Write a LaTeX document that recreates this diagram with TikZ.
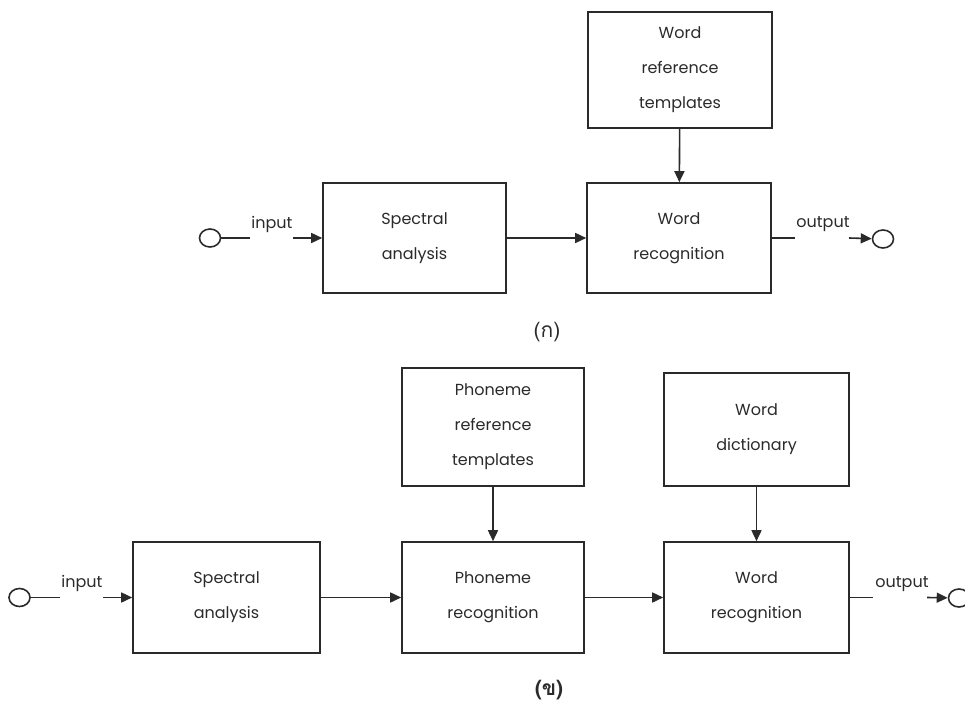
\documentclass[tikz,border=0pt]{standalone}
\usepackage{fontspec}
\setmainfont{Poppins}
\newfontfamily\thaifont[Script=Thai]{Loma}
\usetikzlibrary{arrows.meta,shapes.geometric}
\definecolor{ink}{HTML}{2A2A2A}
\begin{document}
\begin{tikzpicture}[x=1pt,y=-1pt,
  box/.style={draw=ink, text=ink, line width=1.6pt, inner sep=0pt, align=center,
              font=\fontsize{16}{35}\selectfont},
  port/.style={draw=ink, ellipse, line width=1.6pt, inner sep=0pt,
               minimum width=21pt, minimum height=18pt},
  lbl/.style={text=ink, font=\fontsize{16}{18}\selectfont, inner sep=0pt},
  capt/.style={text=ink, font=\thaifont\fontsize{21}{24}\selectfont, inner sep=0pt},
  wire/.style={draw=ink, line width=1.6pt},
  arr/.style={draw=ink, line width=1.6pt, -{Triangle[length=11pt,width=10pt]}},
]
\useasboundingbox (0,0) rectangle (965,703);

% ---------- (a) ----------
\node[box, minimum width=184pt, minimum height=116pt] (tpl1) at (680,70) {Word\\reference\\templates};
\node[box, minimum width=184pt, minimum height=110pt] (wr1) at (679,238) {Word\\recognition};
\node[box, minimum width=183pt, minimum height=110pt] (sa1) at (414.5,238) {Spectral\\analysis};
\node[port] (in1) at (210,238) {};
\node[port] (out1) at (883,239) {};
\coordinate (i1a) at (250,238);
\coordinate (i1b) at (293,238);
\coordinate (o1a) at (795,238);
\coordinate (o1b) at (849,238);
\node[lbl] (inl1) at (272,224) {input};
\node[lbl] (outl1) at (823,224) {output};
\draw[wire] (in1) -- (i1a);
\draw[arr] (i1b) -- (sa1);
\draw[arr] (sa1) -- (wr1);
\draw[arr] (tpl1) -- (wr1);
\draw[wire] (wr1.east) -- (o1a);
\draw[arr] (o1b) -- (out1);
\node[capt] (capa) at (547,332) {(ก)};

% ---------- (b) ----------
\node[box, minimum width=187pt, minimum height=111pt] (sa2) at (226.5,597.5) {Spectral\\analysis};
\node[box, minimum width=182pt, minimum height=118pt] (pt2) at (493,427) {Phoneme\\reference\\templates};
\node[box, minimum width=182pt, minimum height=111pt] (pr2) at (493,597.5) {Phoneme\\recognition};
\node[box, minimum width=185pt, minimum height=113pt] (wd2) at (756.5,429.5) {Word\\dictionary};
\node[box, minimum width=185pt, minimum height=111pt] (wr2) at (756.5,597.5) {Word\\recognition};
\node[port] (in2) at (19.5,597.5) {};
\node[port] (out2) at (959,598) {};
\coordinate (i2a) at (60,597.5);
\coordinate (i2b) at (103,597.5);
\coordinate (o2a) at (873,597.5);
\coordinate (o2b) at (927,597.5);
\node[lbl] (inl2) at (82,583) {input};
\node[lbl] (outl2) at (902,584) {output};
\draw[wire] (in2) -- (i2a);
\draw[arr] (i2b) -- (sa2);
\draw[arr] (sa2) -- (pr2);
\draw[arr] (pr2) -- (wr2);
\draw[arr] (pt2) -- (pr2);
\draw[arr] (wd2) -- (wr2);
\draw[wire] (wr2.east) -- (o2a);
\draw[arr] (o2b) -- (out2);
\node[capt, font=\thaifont\bfseries\fontsize{21}{24}\selectfont] (capb) at (549,690) {(ข)};
\end{tikzpicture}
\end{document}
